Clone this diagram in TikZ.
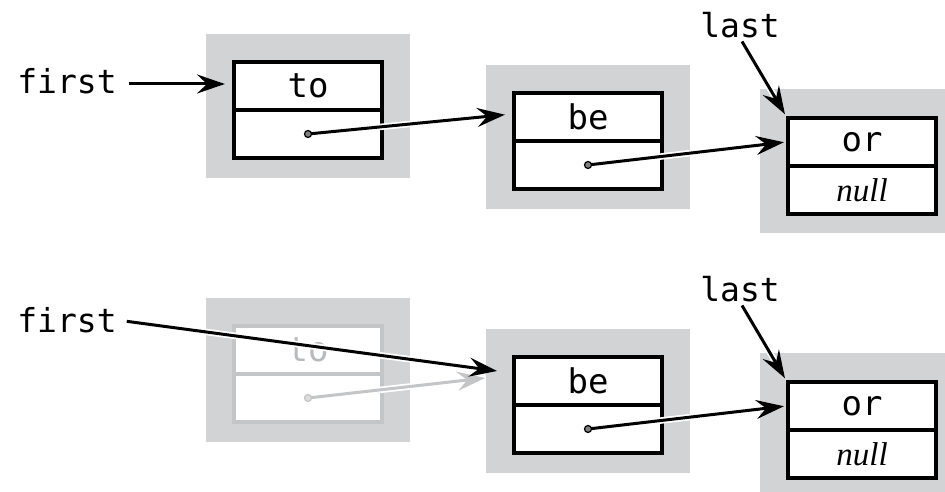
\documentclass[tikz,border=0pt]{standalone}
\usepackage{fontspec}
\setmainfont{Liberation Serif}
\setmonofont{DejaVu Sans Mono}
\usetikzlibrary{arrows.meta}
\definecolor{framegray}{HTML}{D1D3D4}
\definecolor{fadegray}{HTML}{C4C5C7}
\definecolor{fadetext}{HTML}{B9BABC}
\begin{document}
\begin{tikzpicture}[x=1pt,y=1pt,
    nodeframe/.style={fill=framegray, minimum width=204pt, minimum height=144pt, inner sep=0pt},
    cell/.style={draw=black, line width=4pt, fill=white, minimum width=148pt, minimum height=48pt, inner sep=0pt, font=\fontsize{34}{34}\selectfont\ttfamily},
    fadecell/.style={cell, draw=fadegray, text=fadetext},
    nullcell/.style={cell, font=\fontsize{33}{33}\selectfont\rmfamily\itshape},
    varname/.style={inner sep=0pt, font=\fontsize{33}{33}\selectfont\ttfamily},
    ptr/.style={line width=3pt, -{Stealth[length=28pt,width=19pt,inset=10pt]}, preaction={draw=white, line width=6.5pt}},
    fadeptr/.style={ptr, draw=fadegray},
    ptrdot/.style={circle, draw=black, fill=gray, line width=1.2pt, inner sep=0pt, minimum size=7pt}]
            \useasboundingbox (0,0) rectangle (945,492);
            \clip (0,0) rectangle (945,492);

            % before: first -> to -> be -> or
            \node[nodeframe] (frameA) at (308,386) {};
            \node[cell] (itemA) at (308,406) {to};
            \node[cell] (linkA) at (308,358) {};
            \node[nodeframe] (frameB) at (588,355) {};
            \node[cell] (itemB) at (588,375) {be};
            \node[cell] (linkB) at (588,327) {};
            \node[nodeframe] (frameC) at (862,331) {};
            \node[cell] (itemC) at (862,350) {or};
            \node[nullcell] (linkC) at (862,302) {null};

            \node[varname] (firstA) at (67,411) {first};
            \node[varname] (lastA) at (740,467) {last};

            \draw[ptr, shorten <=12pt, shorten >=7pt] ([yshift=2pt]firstA.east |- itemA) -- ([yshift=2pt]itemA.west);
            \draw[ptr, shorten >=7pt] (linkA.center) -- ([yshift=3pt]itemB.west);
            \node[ptrdot] (dotA) at (linkA.center) {};
            \draw[ptr, shorten >=2pt] (linkB.center) -- (itemC.west);
            \node[ptrdot] (dotB) at (linkB.center) {};
            \draw[ptr, shorten <=4pt, shorten >=2pt] (lastA.south) -- (itemC.north west);

            % after: first = first.next
            \node[nodeframe] (frameAb) at (308,122) {};
            \node[fadecell] (itemAb) at (308,142) {to};
            \node[fadecell] (linkAb) at (308,94) {};
            \node[nodeframe] (frameBb) at (588,91) {};
            \node[cell] (itemBb) at (588,111) {be};
            \node[cell] (linkBb) at (588,63) {};
            \node[nodeframe] (frameCb) at (862,67) {};
            \node[cell] (itemCb) at (862,86) {or};
            \node[nullcell] (linkCb) at (862,38) {null};

            \node[varname] (firstB) at (67,172) {first};
            \node[varname] (lastB) at (740,203) {last};

            \draw[fadeptr, shorten >=27pt] (linkAb.center) -- ([yshift=6pt]itemBb.west);
            \node[ptrdot, draw=fadegray, fill=fadegray!60] (dotAb) at (linkAb.center) {};
            \draw[ptr, shorten <=10pt, shorten >=15pt] (firstB.east) -- ([yshift=8pt]itemBb.west);
            \draw[ptr, shorten >=2pt] (linkBb.center) -- (itemCb.west);
            \node[ptrdot] (dotBb) at (linkBb.center) {};
            \draw[ptr, shorten <=4pt, shorten >=2pt] (lastB.south) -- (itemCb.north west);
\end{tikzpicture}
\end{document}
